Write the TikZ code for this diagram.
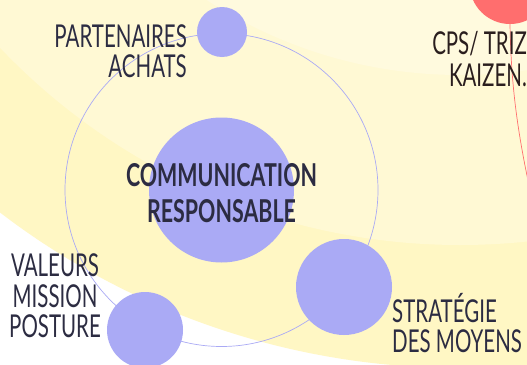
\documentclass[tikz,border=0pt]{standalone}
\usepackage{fontspec}
\setmainfont{Lato}[FakeStretch=0.65,BoldFeatures={FakeStretch=0.68}]
\definecolor{PlanetClr}{RGB}{170,170,245}
\definecolor{TextClr}{RGB}{44,44,66}
\definecolor{CpsClr}{RGB}{42,30,30}
\definecolor{RingA}{RGB}{255,247,196}
\definecolor{RingB}{RGB}{255,249,212}
\definecolor{RingC}{RGB}{255,250,222}
\definecolor{RedClr}{RGB}{255,110,110}

\begin{document}
\begin{tikzpicture}[x=1pt,y=-1pt,
  planet/.style={circle,fill=PlanetClr,inner sep=0pt,minimum size=#1},
  lbl/.style={inner sep=0pt,text=TextClr,font=\fontsize{31.5}{30.5}\selectfont}]
\useasboundingbox (0,0) rectangle (527,364);
\clip (0,0) rectangle (527,364);

% background rings
\fill[white] (0,0) rectangle (527,364);
\fill[RingA] (460,-390) circle (758pt);
\fill[RingB] (460,-390) circle (635pt);
\fill[RingC] (460,-390) circle (465pt);

% red planet and its orbit
\node[circle,fill=RedClr,inner sep=0pt,minimum size=81pt] (cps) at (510,-16.5) {};
\coordinate (cpsend) at (530,190);
\draw[RedClr,line width=0.7pt] (cps.south) .. controls (511,80) and (516,125) .. (cpsend);

% orbit
\draw[PlanetClr,line width=0.7pt] (221.5,190) circle (156.5pt);

\node[planet=145pt] (com) at (221.5,190) {};
\node[planet=50pt] (part) at (222,32) {};
\node[planet=76pt] (val) at (145,330) {};
\node[planet=96pt] (strat) at (344,287) {};

\node[lbl,anchor=south,align=center,font=\bfseries\fontsize{31.5}{36}\selectfont] (comtxt) at (com.center |- 0,223) {COMMUNICATION\\RESPONSABLE};
\node[lbl,anchor=south east,align=right] (parttxt) at (187,78) {PARTENAIRES\\ACHATS};
\node[lbl,anchor=south east,align=center] (valtxt) at (101,338) {VALEURS\\MISSION\\POSTURE};
\node[lbl,anchor=south west,align=left] (strattxt) at (392,353) {STRATÉGIE\\DES MOYENS};
\node[lbl,text=CpsClr,anchor=south east,align=right,font=\fontsize{31.5}{32}\selectfont] (cpstxt) at (527,87) {CPS/ TRIZ\\KAIZEN.};
\end{tikzpicture}
\end{document}
